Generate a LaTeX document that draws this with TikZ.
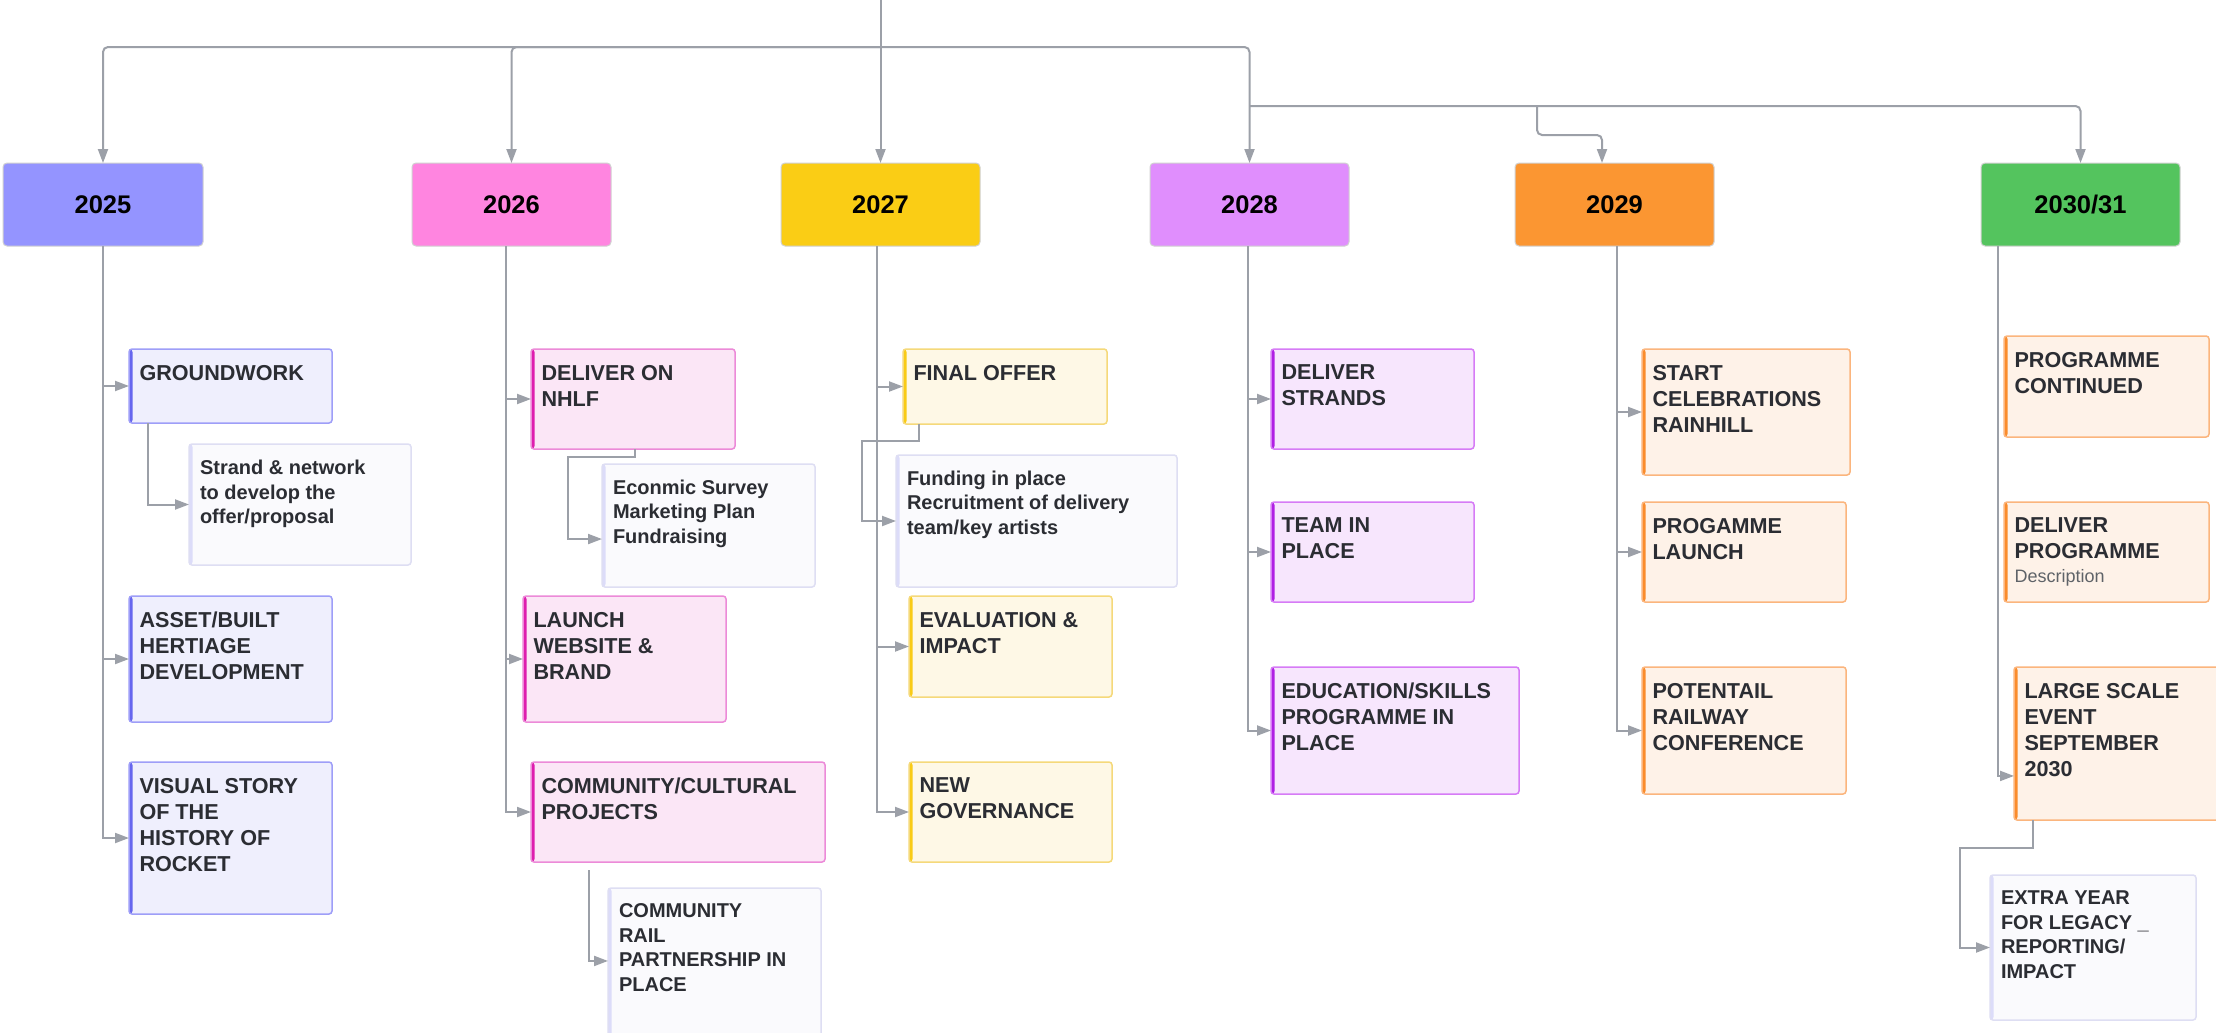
\documentclass[tikz,border=0pt]{standalone}
\usepackage{fontspec}
\setmainfont{Liberation Sans}
\usetikzlibrary{arrows.meta,calc}
\definecolor{ln}{HTML}{9CA0A8}
\definecolor{txt}{HTML}{2B2D33}
\definecolor{desc}{HTML}{5F6368}
\definecolor{h25}{HTML}{9494FF}
\definecolor{h26}{HTML}{FF85E0}
\definecolor{h27}{HTML}{FACD15}
\definecolor{h28}{HTML}{E08EFD}
\definecolor{h29}{HTML}{FB9632}
\definecolor{h30}{HTML}{54C45E}
\definecolor{f25}{HTML}{EFEFFD}\definecolor{d25}{HTML}{9E9EF8}\definecolor{b25}{HTML}{6666EE}
\definecolor{f26}{HTML}{FBE6F6}\definecolor{d26}{HTML}{EC8AD8}\definecolor{b26}{HTML}{DE1EAE}
\definecolor{f27}{HTML}{FEF8E6}\definecolor{d27}{HTML}{F5D97A}\definecolor{b27}{HTML}{F9CB16}
\definecolor{f28}{HTML}{F7E6FD}\definecolor{d28}{HTML}{D67BF6}\definecolor{b28}{HTML}{B020E4}
\definecolor{f29}{HTML}{FEF2E8}\definecolor{d29}{HTML}{FBB57D}\definecolor{b29}{HTML}{FA8C2C}
\definecolor{fs}{HTML}{FAFAFD}\definecolor{ds}{HTML}{DEDEF3}\definecolor{bs}{HTML}{DCDCF9}

\newdimen\pxu \pxu=0.5pt
\newcommand{\ctf}{\fontsize{10.8pt}{13pt}\selectfont\bfseries\color{txt}\leftskip=5.25pt\rightskip=0pt plus 1fil\parindent=0pt\vspace*{8pt}}
\newcommand{\stf}{\fontsize{10pt}{12.25pt}\selectfont\bfseries\color{txt}\leftskip=5.5pt\rightskip=0pt plus 1fil\parindent=0pt\vspace*{8pt}}

\tikzset{
  arr/.style={draw=ln, line width=1pt, -{Triangle[length=7pt,width=5pt]}},
  yearbox/.style={fill=#1, draw=black!18, line width=0.5pt, rounded corners=2pt, inner sep=0pt, outer sep=0pt, text=black, font=\fontsize{12.75pt}{15pt}\selectfont\bfseries},
  card/.style n args={3}{fill=#1, draw=#2, line width=0.75pt, rounded corners=1.5pt, inner sep=0pt, outer sep=0pt,
     path picture={\fill[#3] (path picture bounding box.north west) rectangle ([xshift=1.75pt]path picture bounding box.south west);}},
  c25/.style={card={f25}{d25}{b25}},
  c26/.style={card={f26}{d26}{b26}},
  c27/.style={card={f27}{d27}{b27}},
  c28/.style={card={f28}{d28}{b28}},
  c29/.style={card={f29}{d29}{b29}},
  csub/.style={card={fs}{ds}{bs}},
}

\newcommand{\yearnode}[7]{%
  \node[yearbox=#1, minimum width={(#5-#3)*0.5pt}, minimum height={(#6-#4)*0.5pt}] (#2) at ({(#3+#5)/2},{(#4+#6)/2}) {#7};}
\newcommand{\cardnode}[8]{%
  \node[#1, anchor=north west] (#2) at (#3,#4) {\parbox[c][\dimexpr\pxu*(#6-#4)\relax][t]{\dimexpr\pxu*(#5-#3)\relax}{#7#8}};}

\begin{document}
\begin{tikzpicture}[x=0.5pt, y=-0.5pt]
\useasboundingbox (0,0) rectangle (2216,1033);
\fill[white] (0,0) rectangle (2216,1033);
\clip (0,0) rectangle (2216,1033);

% year headers
\yearnode{h25}{y2025}{3}{163}{203}{246}{2025}
\yearnode{h26}{y2026}{412}{163}{611}{246}{2026}
\yearnode{h27}{y2027}{781}{163}{980}{246}{2027}
\yearnode{h28}{y2028}{1150}{163}{1349}{246}{2028}
\yearnode{h29}{y2029}{1515}{163}{1714}{246}{2029}
\yearnode{h30}{y2030}{1981}{163}{2180}{246}{2030/31}

% 2025
\cardnode{c25}{g1}{129}{349}{332}{423}{\ctf}{GROUNDWORK}
\cardnode{csub}{s1}{189}{444}{411}{565}{\stf}{Strand \& network\\to develop the\\offer/proposal}
\cardnode{c25}{g2}{129}{596}{332}{722}{\ctf}{ASSET/BUILT\\HERTIAGE\\DEVELOPMENT}
\cardnode{c25}{g3}{129}{762}{332}{914}{\ctf}{VISUAL STORY\\OF THE\\HISTORY OF\\ROCKET}

% 2026
\cardnode{c26}{h1}{531}{349}{735}{449}{\ctf}{DELIVER ON\\NHLF}
\cardnode{csub}{s2}{602}{464}{815}{587}{\stf}{Econmic Survey\\Marketing Plan\\Fundraising}
\cardnode{c26}{h2}{523}{596}{726}{722}{\ctf}{LAUNCH\\WEBSITE \&\\BRAND}
\cardnode{c26}{h3}{531}{762}{825}{862}{\ctf}{COMMUNITY/CULTURAL\\PROJECTS}
\cardnode{csub}{s3}{608}{888}{821}{1040}{\stf}{COMMUNITY\\RAIL\\PARTNERSHIP IN\\PLACE}

% 2027
\cardnode{c27}{f1}{903}{349}{1107}{424}{\ctf}{FINAL OFFER}
\cardnode{csub}{s4}{896}{455}{1177}{587}{\stf}{Funding in place\\Recruitment of delivery\\team/key artists}
\cardnode{c27}{f2}{909}{596}{1112}{697}{\ctf}{EVALUATION \&\\IMPACT}
\cardnode{c27}{f3}{909}{762}{1112}{862}{\ctf}{NEW\\GOVERNANCE}

% 2028
\cardnode{c28}{d1}{1271}{349}{1474}{449}{\ctf}{DELIVER\\STRANDS}
\cardnode{c28}{d2}{1271}{502}{1474}{602}{\ctf}{TEAM IN\\PLACE}
\cardnode{c28}{d3}{1271}{667}{1519}{794}{\ctf}{EDUCATION/SKILLS\\PROGRAMME IN\\PLACE}

% 2029
\cardnode{c29}{o1}{1642}{349}{1850}{475}{\ctf}{START\\CELEBRATIONS\\RAINHILL}
\cardnode{c29}{o2}{1642}{502}{1846}{602}{\ctf}{PROGAMME\\LAUNCH}
\cardnode{c29}{o3}{1642}{667}{1846}{794}{\ctf}{POTENTAIL\\RAILWAY\\CONFERENCE}

% 2030/31
\cardnode{c29}{p1}{2004}{336}{2209}{437}{\ctf}{PROGRAMME\\CONTINUED}
\cardnode{c29}{p2}{2004}{502}{2209}{602}{\ctf}{DELIVER\\PROGRAMME\par{\fontsize{9pt}{12pt}\selectfont\mdseries\color{desc}Description\par}}
\cardnode{c29}{p3}{2014}{667}{2240}{820}{\ctf}{LARGE SCALE\\EVENT\\SEPTEMBER\\2030}
\cardnode{csub}{s5}{1990}{875}{2196}{1020}{\stf}{EXTRA YEAR\\FOR LEGACY \_\\REPORTING/\\IMPACT}

% top connectors
\coordinate (src) at (y2027.north |- 0,0);
\coordinate (hub) at (y2027.north |- 0,47);
\coordinate (hub2) at (y2028.north |- 0,106);
\coordinate (hub3) at (1537,106);
\coordinate (j29) at (1537,135);
\draw[arr] (src) -- (y2027.north);
\draw[arr, rounded corners=2.5pt] (hub) -| (y2025.north);
\draw[arr, rounded corners=2.5pt] (hub) -| (y2026.north);
\draw[arr, rounded corners=2.5pt] (hub) -| (y2028.north);
\draw[arr, rounded corners=2.5pt] (hub2) -| (y2030.north);
\draw[arr, rounded corners=2.5pt] (hub3) -- (j29) -| ($(y2029.north west)+(87,0)$);

% trunks
\coordinate (t25) at (y2025.south);
\coordinate (t26) at ($(y2026.south west)+(94,0)$);
\coordinate (t27) at ($(y2027.south west)+(96,0)$);
\coordinate (t28) at ($(y2028.south west)+(98,0)$);
\coordinate (t29) at ($(y2029.south west)+(102,0)$);
\coordinate (t30) at ($(y2030.south west)+(17,0)$);

\draw[arr] (t25) |- (g1.west);
\draw[arr] (t25) |- (g2.west);
\draw[arr] (t25) |- (g3.west);
\draw[arr] (t26) |- (h1.west);
\draw[arr] (t26) |- (h2.west);
\draw[arr] (t26) |- (h3.west);
\draw[arr] (t27) |- (f1.west);
\draw[arr] (t27) |- (f2.west);
\draw[arr] (t27) |- (f3.west);
\draw[arr] (t28) |- (d1.west);
\draw[arr] (t28) |- (d2.west);
\draw[arr] (t28) |- (d3.west);
\draw[arr] (t29) |- (o1.west);
\draw[arr] (t29) |- (o2.west);
\draw[arr] (t29) |- (o3.west);
\draw[arr] (t30) |- ($(p3.north west)!0.712!(p3.south west)$);

% sub connectors
\coordinate (b2) at (568,457);
\coordinate (b4) at (862,441);
\coordinate (b5) at (1960,848);
\draw[arr] ($(g1.south west)+(19,0)$) |- (s1.west);
\draw[arr] ($(h1.south west)+(104,0)$) |- (b2) |- ($(s2.north west)!0.61!(s2.south west)$);
\draw[arr] ($(h3.south west)+(58,8)$) |- ($(s3.north west)!0.48!(s3.south west)$);
\draw[arr] ($(f1.south west)+(16,0)$) |- (b4) |- (s4.west);
\draw[arr] ($(p3.south west)+(19,0)$) |- (b5) |- (s5.west);
\end{tikzpicture}
\end{document}
